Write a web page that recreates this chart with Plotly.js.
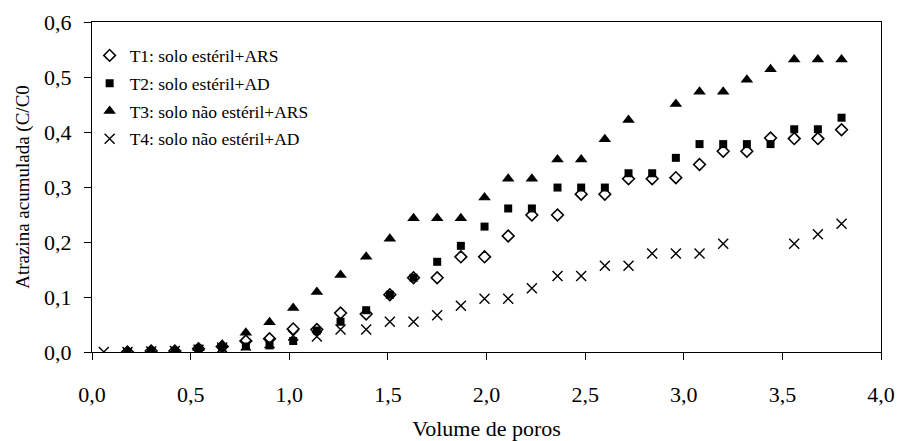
<!DOCTYPE html>
<html>
<head>
<meta charset="utf-8">
<script src="https://cdn.plot.ly/plotly-3.0.1.min.js"></script>
<style>html,body{margin:0;padding:0;background:#fff;}#chart{width:899px;height:441px;}</style>
</head>
<body>
<div id="chart"></div>
<script>
const volumePoros = [0.06, 0.18, 0.30, 0.42, 0.54, 0.66, 0.78, 0.90, 1.02, 1.14, 1.26, 1.39, 1.51, 1.63, 1.75, 1.87, 1.99, 2.11, 2.23, 2.36, 2.48, 2.60, 2.72, 2.84, 2.96, 3.08, 3.20, 3.32, 3.44, 3.56, 3.68, 3.80];

const t1 = [null, 0.000, 0.002, 0.002, 0.006, 0.010, 0.020, 0.024, 0.042, 0.041, 0.071, 0.069, 0.104, 0.135, 0.135, 0.173, 0.173, 0.211, 0.249, 0.249, 0.287, 0.287, 0.315, 0.315, 0.317, 0.341, 0.365, 0.365, 0.389, 0.388, 0.388, 0.404];
const t2 = [null, 0.000, 0.002, 0.002, 0.006, 0.008, 0.010, 0.012, 0.020, 0.039, 0.055, 0.076, 0.104, 0.135, 0.164, 0.193, 0.228, 0.261, 0.261, 0.299, 0.299, 0.299, 0.325, 0.325, 0.353, 0.378, 0.378, 0.378, 0.378, 0.405, 0.405, 0.426];
const t3 = [null, 0.000, 0.002, 0.002, 0.007, 0.013, 0.035, 0.054, 0.080, 0.109, 0.140, 0.173, 0.206, 0.243, 0.243, 0.243, 0.281, 0.315, 0.315, 0.350, 0.350, 0.387, 0.422, null, 0.451, 0.473, 0.473, 0.495, 0.514, 0.532, 0.532, 0.532];
const t4 = [0.000, 0.000, 0.001, 0.002, 0.004, 0.008, 0.012, 0.016, 0.030, 0.028, 0.041, 0.041, 0.055, 0.055, 0.067, 0.084, 0.097, 0.097, 0.116, 0.138, 0.138, 0.157, 0.157, 0.179, 0.179, 0.179, 0.197, null, null, 0.197, 0.214, 0.233];

const seriesNames = ["T1: solo estéril+ARS", "T2: solo estéril+AD", "T3: solo não estéril+ARS", "T4: solo não estéril+AD"];
const yTickVals = [0, 0.1, 0.2, 0.3, 0.4, 0.5, 0.6];
const xTickVals = [0, 0.5, 1.0, 1.5, 2.0, 2.5, 3.0, 3.5, 4.0];

const traces = [
  {x: volumePoros, y: t1, name: seriesNames[0], legendgroup: "g1", mode: "markers", type: "scatter",
   marker: {symbol: "diamond-open", size: 9, color: "#000", line: {width: 1.6, color: "#000"}}},
  {x: volumePoros, y: t2, name: seriesNames[1], legendgroup: "g2", mode: "markers", type: "scatter",
   marker: {symbol: "square", size: 8, color: "#000", line: {width: 0}}},
  {x: volumePoros, y: t3, name: seriesNames[2], legendgroup: "g3", mode: "markers", type: "scatter",
   marker: {symbol: "triangle-up", size: 11, color: "#000", line: {width: 0}}},
  {x: volumePoros, y: t4, name: seriesNames[3], legendgroup: "g4", mode: "markers", type: "scatter",
   marker: {symbol: "x-thin-open", size: 10, color: "#000", line: {width: 1.4, color: "#000"}}}
];

const fontFam = "'Liberation Serif', 'Times New Roman', serif";

const layout = {
  width: 899, height: 441,
  margin: {l: 92, r: 18, t: 22, b: 89, pad: 0},
  paper_bgcolor: "#fff", plot_bgcolor: "#fff",
  separators: ",.",
  font: {family: fontFam, color: "#000", size: 22},
  showlegend: true,
  legend: {x: -0.003, y: 0.953, xanchor: "left", yanchor: "top", bgcolor: "rgba(0,0,0,0)",
           font: {family: fontFam, size: 17.5, color: "#000"}, traceorder: "grouped", tracegroupgap: 2,
           itemwidth: 30},
  xaxis: {range: [0, 4], tickvals: xTickVals, tickformat: ".1f", showgrid: false, zeroline: false,
          showline: true, linecolor: "#000", linewidth: 1, mirror: true,
          ticks: "outside", ticklen: 7, tickcolor: "#000", tickwidth: 1,
          ticklabelstandoff: 16,
          tickfont: {family: fontFam, size: 22, color: "#000"},
          title: {text: "Volume de poros", font: {family: fontFam, size: 22, color: "#000"}, standoff: 21}},
  yaxis: {range: [0, 0.6], tickvals: yTickVals, tickformat: ".1f", showgrid: false, zeroline: false,
          showline: true, linecolor: "#000", linewidth: 1, mirror: true,
          ticks: "outside", ticklen: 7, tickcolor: "#000", tickwidth: 1,
          ticklabelstandoff: 8,
          tickfont: {family: fontFam, size: 22, color: "#000"},
          title: {text: "Atrazina acumulada (C/C0", font: {family: fontFam, size: 19, color: "#000"}, standoff: 9}}
};

Plotly.newPlot("chart", traces, layout, {displayModeBar: false, staticPlot: true});
</script>
</body>
</html>
